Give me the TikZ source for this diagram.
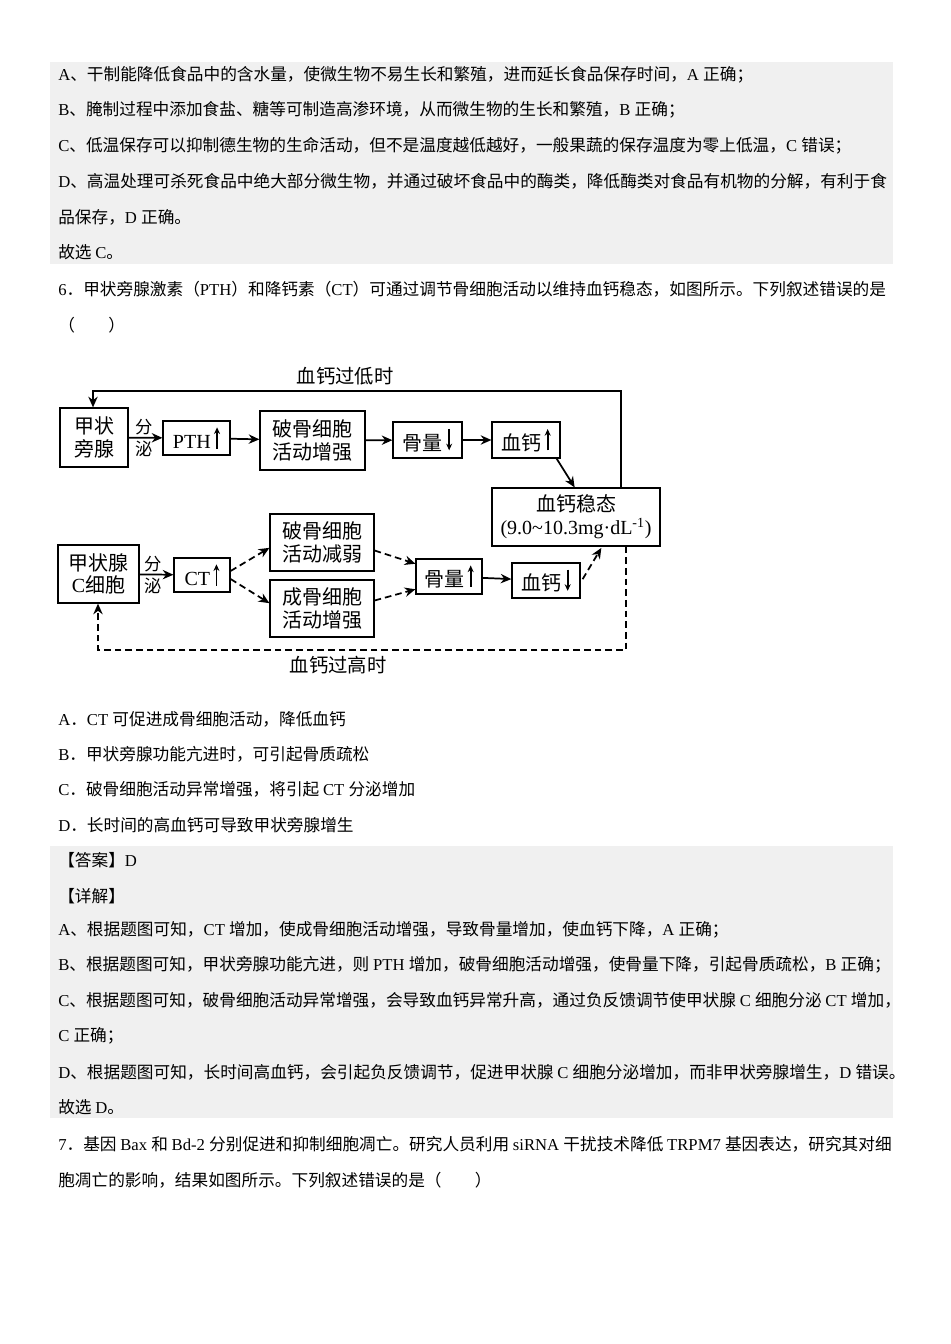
\documentclass[tikz,border=0pt]{standalone}
\usepackage{fontspec}
\setmainfont{Liberation Serif}
\newfontfamily\cjk{Noto Sans CJK SC}
\newfontfamily\lat{Liberation Serif}
\usetikzlibrary{arrows.meta}
\XeTeXinterchartokenstate=1
\newXeTeXintercharclass\cjkclass
\count255="4E00
\loop\XeTeXcharclass\count255=\cjkclass\advance\count255 1 \ifnum\count255<"A000 \repeat
\count255="3000
\loop\XeTeXcharclass\count255=\cjkclass\advance\count255 1 \ifnum\count255<"3040 \repeat
\count255="FF00
\loop\XeTeXcharclass\count255=\cjkclass\advance\count255 1 \ifnum\count255<"FFF0 \repeat
\XeTeXinterchartoks 0 \cjkclass = {\cjk}
\XeTeXinterchartoks 4095 \cjkclass = {\cjk}
\XeTeXinterchartoks \cjkclass 0 = {\lat}
\XeTeXinterchartoks 4095 0 = {\lat}
\newcommand\uparr{\,\tikz[baseline=-2pt]\draw[-{Stealth[length=5pt,width=4.5pt]},line width=1.3pt](0,-2pt)--(0,14pt);}
\newcommand\dnarr{\,\tikz[baseline=-2pt]\draw[-{Stealth[length=5pt,width=4.5pt]},line width=1.3pt](0,14pt)--(0,-2pt);}
\begin{document}
\begin{tikzpicture}[x=0.75pt,y=-0.75pt,
  txt/.style={anchor=west,inner sep=0pt,font=\fontsize{12.5pt}{14pt}\selectfont},
  box/.style={draw,line width=0.9pt,inner sep=1pt,align=center,font=\fontsize{15pt}{17pt}\selectfont},
  lab/.style={inner sep=0pt,font=\fontsize{14.5pt}{17pt}\selectfont},
  sm/.style={inner sep=0pt,align=center,font=\fontsize{13pt}{16.5pt}\selectfont},
  arr/.style={-{Stealth[length=8pt,width=7pt]},line width=1.3pt},
  darr/.style={arr,dash pattern=on 5pt off 3pt}]
\useasboundingbox (0,0) rectangle (950,1344);
\fill[white] (0,0) rectangle (950,1344);
\fill[black!6] (50,62) rectangle (893,264);
\fill[black!6] (50,846) rectangle (893,1118);
\node[txt] (l1) at (58,75) {A、干制能降低食品中的含水量，使微生物不易生长和繁殖，进而延长食品保存时间，A 正确；};
\node[txt] (l2) at (58,110) {B、腌制过程中添加食盐、糖等可制造高渗环境，从而微生物的生长和繁殖，B 正确；};
\node[txt] (l3) at (58,146) {C、低温保存可以抑制德生物的生命活动，但不是温度越低越好，一般果蔬的保存温度为零上低温，C 错误；};
\node[txt] (l4) at (58,181) {D、高温处理可杀死食品中绝大部分微生物，并通过破坏食品中的酶类，降低酶类对食品有机物的分解，有利于食};
\node[txt] (l5) at (58,217) {品保存，D 正确。};
\node[txt] (l6) at (58,252) {故选 C。};
\node[txt] (l7) at (58,289) {6．甲状旁腺激素（PTH）和降钙素（CT）可通过调节骨细胞活动以维持血钙稳态，如图所示。下列叙述错误的是};
\node[txt] (l8) at (58,325) {（　　）};
\node[txt] (o1) at (58,719) {A．CT 可促进成骨细胞活动，降低血钙};
\node[txt] (o2) at (58,754) {B．甲状旁腺功能亢进时，可引起骨质疏松};
\node[txt] (o3) at (58,789) {C．破骨细胞活动异常增强，将引起 CT 分泌增加};
\node[txt] (o4) at (58,825) {D．长时间的高血钙可导致甲状旁腺增生};
\node[txt] (a0) at (58,860) {【答案】D};
\node[txt] (a1) at (58,896) {【详解】};
\node[txt] (a2) at (58,930) {A、根据题图可知，CT 增加，使成骨细胞活动增强，导致骨量增加，使血钙下降，A 正确；};
\node[txt] (a3) at (58,965) {B、根据题图可知，甲状旁腺功能亢进，则 PTH 增加，破骨细胞活动增强，使骨量下降，引起骨质疏松，B 正确；};
\node[txt] (a4) at (58,1000) {C、根据题图可知，破骨细胞活动异常增强，会导致血钙异常升高，通过负反馈调节使甲状腺 C 细胞分泌 CT 增加，};
\node[txt] (a5) at (58,1036) {C 正确；};
\node[txt] (a6) at (58,1072) {D、根据题图可知，长时间高血钙，会引起负反馈调节，促进甲状腺 C 细胞分泌增加，而非甲状旁腺增生，D 错误。};
\node[txt] (a7) at (58,1107) {故选 D。};
\node[txt] (q1) at (58,1144) {7．基因 Bax 和 Bd-2 分别促进和抑制细胞凋亡。研究人员利用 siRNA 干扰技术降低 TRPM7 基因表达，研究其对细};
\node[txt] (q2) at (58,1180) {胞凋亡的影响，结果如图所示。下列叙述错误的是（　　）};
% diagram upper
\node[box,minimum width=68*0.75pt,minimum height=59*0.75pt] (fz) at (94,437.5) {甲状\\旁腺};
\node[box,minimum width=67*0.75pt,minimum height=34*0.75pt] (pth) at (196.5,438) {PTH\uparr};
\node[box,minimum width=105*0.75pt,minimum height=59*0.75pt] (pg) at (312.5,440.5) {破骨细胞\\活动增强};
\node[box,minimum width=69*0.75pt,minimum height=36*0.75pt] (gl1) at (427.5,440) {骨量\dnarr};
\node[box,minimum width=68*0.75pt,minimum height=36*0.75pt] (xg1) at (526,440) {血钙\uparr};
\node[box,minimum width=168*0.75pt,minimum height=58*0.75pt] (wt) at (576,517) {血钙稳态\\(9.0\textasciitilde10.3mg·dL\textsuperscript{-1})};
\node[sm] (fm1) at (144,438) {分\\泌};
\node[lab] (low) at (345,376) {血钙过低时};
\coordinate (t1) at (621,391);
\coordinate (t2) at (93,391);
\draw[arr] (fz) -- (pth);
\draw[arr] (pth) -- (pg);
\draw[arr] (pg) -- (gl1);
\draw[arr] (gl1) -- (xg1);
\draw[arr] ([xshift=-3pt]xg1.south east) -- ([xshift=-1pt]wt.north);
\draw[arr] (wt.north -| t1) -- (t1) -- (t2) -- (fz.north -| t2);
% diagram lower
\node[box,minimum width=81*0.75pt,minimum height=58*0.75pt] (cc) at (98.5,574) {甲状腺\\C细胞};
\node[box,minimum width=56*0.75pt,minimum height=34*0.75pt] (ct) at (202,575) {CT\uparr};
\node[box,minimum width=104*0.75pt,minimum height=57*0.75pt] (pj) at (322,542.5) {破骨细胞\\活动减弱};
\node[box,minimum width=104*0.75pt,minimum height=57*0.75pt] (cq) at (322,608.5) {成骨细胞\\活动增强};
\node[box,minimum width=66*0.75pt,minimum height=35*0.75pt] (gl2) at (449,576.5) {骨量\uparr};
\node[box,minimum width=68*0.75pt,minimum height=35*0.75pt] (xg2) at (546,580.5) {血钙\dnarr};
\node[sm] (fm2) at (153,575) {分\\泌};
\node[lab] (high) at (338,665) {血钙过高时};
\coordinate (b1) at (626,650);
\coordinate (b2) at (98,650);
\draw[arr] (cc) -- (ct);
\draw[darr] ([yshift=3pt]ct.east) -- ([yshift=-4pt]pj.west);
\draw[darr] ([yshift=-3pt]ct.east) -- ([yshift=4pt]cq.west);
\draw[darr] ([yshift=-6pt]pj.east) -- ([yshift=-4pt]gl2.north west);
\draw[darr] ([yshift=6pt]cq.east) -- ([yshift=4pt]gl2.south west);
\draw[arr] (gl2) -- (xg2);
\draw[darr] ([xshift=1.5pt,yshift=1pt]xg2.east) -- ([xshift=19pt,yshift=-1pt]wt.south);
\draw[darr] (wt.south -| b1) -- (b1) -- (b2) -- (cc.south -| b2);
\end{tikzpicture}
\end{document}
